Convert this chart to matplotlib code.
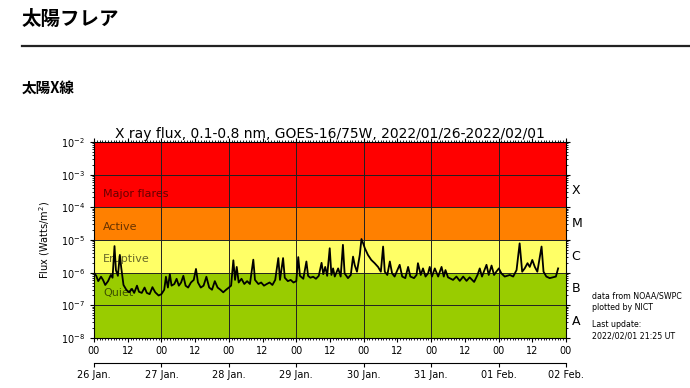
import numpy as np
import matplotlib
matplotlib.use('Agg')
import matplotlib.pyplot as plt
from matplotlib.lines import Line2D
from matplotlib.ticker import FixedLocator, LogLocator, NullFormatter

plt.rcParams['font.family'] = ['DejaVu Sans']

# hours since 2022/01/26 00 UT and GOES X-ray flux (W/m^2)
hours = [0, 0.8, 1.5, 2.5, 3.2, 4.0, 5.0, 6.0, 6.6, 7.3, 7.8, 8.5, 9.2, 9.7, 10.5,
         11.5, 12.5, 13.5, 14.3, 15.3, 16.0, 17.0, 18.0, 18.8, 19.8, 20.8, 21.8, 23.0, 24.0,
         25.0, 25.6, 26.3, 27.0, 27.6, 28.6, 29.4, 30.2, 31.0, 31.8, 32.6, 33.5, 34.5, 35.5,
         36.3, 37.0, 38.0, 39.0, 40.0, 41.0, 42.0, 43.0, 44.0, 45.0, 46.0, 47.0, 48.0,
         48.8, 49.6, 50.2, 50.8, 51.5, 52.5, 53.5, 54.5, 55.5, 56.7, 57.3, 58.5, 59.5, 60.5,
         61.5, 62.5, 63.5, 64.5, 65.6, 66.2, 67.3, 67.9, 69.0, 70.0, 71.0, 72.0, 72.7, 73.3,
         74.5, 75.6, 76.2, 77.0, 78.0, 79.0, 80.0, 81.0, 81.6, 82.3, 83.0,
         83.9, 84.5, 85.1, 85.7, 86.9, 87.8, 88.6, 89.2, 90.4, 91.4, 92.2, 92.8, 93.6, 94.6,
         95.2, 95.8, 96.4, 97.5, 98.7, 99.9, 101.1, 102.1, 102.9, 103.5, 104.4, 105.3, 106.1,
         107.0, 108.8, 109.7, 110.8, 111.8, 112.6, 113.9, 114.8, 115.3, 116.3, 117.1, 118.0,
         118.9, 119.5, 120.3, 121.3, 122.5, 123.7, 124.5, 125.1, 126.0, 127.8, 129.0, 130.2,
         131.4, 132.6, 133.7, 135.3, 136.5, 137.3, 138.1, 139.7, 140.5, 141.5, 142.4, 143.2,
         144.1, 145.0, 146.2, 148.0, 149.2, 150.4, 151.5, 152.4, 153.3, 154.3, 155.1, 156.0,
         156.9, 157.8, 159.3, 160.0, 161.0, 162.2, 163.4, 164.4, 165.2]
flux = [1.0e-6, 8e-7, 5.5e-7, 7.5e-7, 6e-7, 4.2e-7, 5.5e-7, 8.5e-7, 7e-7, 6.5e-6, 1.2e-6, 8e-7, 3.5e-6, 1.4e-6, 4.2e-7,
        3e-7, 2.5e-7, 3.2e-7, 2.4e-7, 4.0e-7, 2.6e-7, 2.4e-7, 3.5e-7, 2.4e-7, 2.2e-7, 3.6e-7, 2.5e-7, 2.0e-7, 2.2e-7,
        3e-7, 7.5e-7, 3.5e-7, 9e-7, 4e-7, 4.5e-7, 6.5e-7, 4e-7, 5e-7, 8e-7, 4e-7, 3.5e-7, 5e-7, 6e-7,
        1.3e-6, 5e-7, 3.5e-7, 4e-7, 7.5e-7, 3.5e-7, 3e-7, 5.5e-7, 3.5e-7, 3e-7, 2.5e-7, 3e-7, 3.5e-7,
        4e-7, 2.4e-6, 6e-7, 1.5e-6, 5e-7, 6.5e-7, 4.5e-7, 5.5e-7, 4.5e-7, 2.5e-6, 6e-7, 4.5e-7, 5e-7, 4e-7,
        4.5e-7, 5e-7, 4.2e-7, 6e-7, 2.8e-6, 6e-7, 2.8e-6, 7e-7, 5.5e-7, 6e-7, 5e-7, 5.5e-7, 3e-6, 8e-7,
        6.5e-7, 2.2e-6, 8e-7, 7e-7, 7.5e-7, 6.5e-7, 8e-7, 2e-6, 9e-7, 1.5e-6, 8e-7,
        5.6e-6, 8.5e-7, 1.35e-6, 7.6e-7, 1.35e-6, 7.6e-7, 7.1e-6, 9.5e-7, 6.8e-7, 8.5e-7, 3.1e-6, 1.7e-6, 1.07e-6, 3.5e-6,
        1.07e-5, 7.9e-6, 5.6e-6, 3.5e-6, 2.45e-6, 1.95e-6, 1.5e-6, 1.07e-6, 6.3e-6, 1.07e-6, 8.5e-7, 2.2e-6, 9.5e-7,
        7.6e-7, 1.74e-6, 7.6e-7, 6.8e-7, 1.5e-6, 7.6e-7, 6.8e-7, 8.5e-7, 1.95e-6, 8.5e-7, 1.35e-6, 7.6e-7,
        9.5e-7, 1.5e-6, 7.6e-7, 1.35e-6, 7.6e-7, 1.5e-6, 7.6e-7, 1.2e-6, 7.2e-7, 6e-7, 7.6e-7, 5.6e-7,
        7.6e-7, 5.6e-7, 7.2e-7, 5.2e-7, 8.5e-7, 1.35e-6, 7.6e-7, 1.74e-6, 8.5e-7, 1.65e-6, 8.5e-7, 1.07e-6,
        1.35e-6, 9.5e-7, 7.6e-7, 8.5e-7, 7.6e-7, 1.2e-6, 7.9e-6, 1.07e-6, 1.35e-6, 1.95e-6, 1.5e-6, 2.45e-6,
        1.5e-6, 1.07e-6, 6.3e-6, 1.07e-6, 7.6e-7, 6.8e-7, 7.2e-7, 7.6e-7, 1.35e-6]

# flare class bands
band_edges = [1e-8, 1e-6, 1e-5, 1e-4, 1e-2]
band_colors = ['#99cc00', '#ffff66', '#ff8000', '#ff0000']
band_names = ['Quiet', 'Eruptive', 'Active', 'Major flares']
band_name_y = [2.4e-7, 2.6e-6, 2.5e-5, 2.6e-4]
class_letters = ['A', 'B', 'C', 'M', 'X']
class_y = [10**-7.5, 10**-6.5, 10**-5.5, 10**-4.5, 10**-3.5]

hour_ticks = list(range(0, 169, 12))
hour_labels = ['00' if h % 24 == 0 else '12' for h in hour_ticks]
day_ticks = list(range(0, 169, 24))
day_labels = ['26 Jan.', '27 Jan.', '28 Jan.', '29 Jan.', '30 Jan.', '31 Jan.', '01 Feb.', '02 Feb.']

fig = plt.figure(figsize=(6.9, 3.88), dpi=100)

# page header
fig.text(22/690, 1 - 19/388, '太陽フレア', fontsize=14, fontweight='bold',
         family=['Noto Sans CJK JP'], va='center', ha='left')
fig.add_artist(Line2D([22/690, 1.0], [1 - 46/388, 1 - 46/388], transform=fig.transFigure,
                      color='#222222', lw=1.6))
fig.text(22/690, 1 - 88/388, '太陽X線', fontsize=10.5, fontweight='bold',
         family=['Noto Sans CJK JP'], va='center', ha='left')

ax = fig.add_axes([94/690, 1 - 338/388, 472/690, 196/388])
ax.set_yscale('log')
ax.set_ylim(1e-8, 1e-2)
ax.set_xlim(0, 168)

for i in range(4):
    ax.axhspan(band_edges[i], band_edges[i + 1], color=band_colors[i], zorder=0, lw=0)
    ax.text(3.2, band_name_y[i], band_names[i], fontsize=8, color='k', alpha=0.6,
            va='center', ha='left', zorder=1)

ax.plot(hours, flux, color='black', lw=1.3, zorder=3)

# grid: decades and day boundaries
for e in range(-7, -2):
    ax.axhline(10.0**e, color='#222222', lw=0.7, zorder=2)
for d in day_ticks[1:-1]:
    ax.axvline(d, color='#222222', lw=0.7, zorder=2)

ax.set_xticks(hour_ticks, hour_labels)
ax.xaxis.set_minor_locator(FixedLocator(list(range(0, 169))))
ax.yaxis.set_major_locator(LogLocator(base=10, numticks=10))
ax.yaxis.set_minor_locator(LogLocator(base=10, subs=np.arange(2, 10), numticks=20))
ax.yaxis.set_minor_formatter(NullFormatter())
ax.tick_params(axis='both', which='major', labelsize=7, length=3, direction='out',
               right=True, top=True)
ax.tick_params(axis='both', which='minor', length=1.5, direction='out', right=True, top=True)
ax.tick_params(axis='x', pad=3)

for s, yv in zip(class_letters, class_y):
    ax.text(1.012, yv, s, transform=ax.get_yaxis_transform(), fontsize=9,
            va='center', ha='left')

ax.set_ylabel('Flux (Watts/m$^2$)', fontsize=7, labelpad=6)
ax.set_title('X ray flux, 0.1-0.8 nm, GOES-16/75W, 2022/01/26-2022/02/01', fontsize=10, pad=3)

sec = ax.secondary_xaxis(-0.128)
sec.set_xticks(day_ticks, day_labels)
sec.tick_params(labelsize=7, length=3, pad=2)

fig.text(592/690, 1 - 302/388, 'data from NOAA/SWPC\nplotted by NICT', fontsize=5.7,
         va='center', ha='left', linespacing=1.3)
fig.text(592/690, 1 - 330/388, 'Last update:\n2022/02/01 21:25 UT', fontsize=5.7,
         va='center', ha='left', linespacing=1.3)

fig.savefig('out.png', dpi=100)
